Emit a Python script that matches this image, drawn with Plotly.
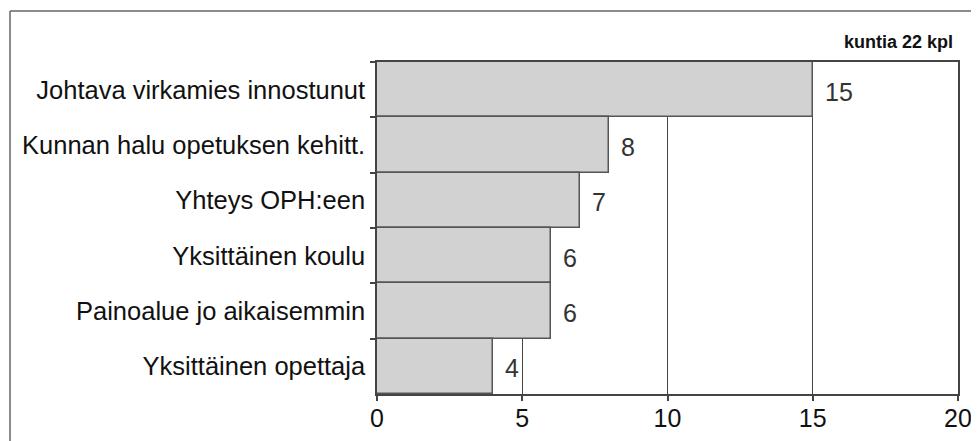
import plotly.graph_objects as go

categories = [
    "Johtava virkamies innostunut",
    "Kunnan halu opetuksen kehitt.",
    "Yhteys OPH:een",
    "Yksittäinen koulu",
    "Painoalue jo aikaisemmin",
    "Yksittäinen opettaja",
]
values = [15, 8, 7, 6, 6, 4]
x_ticks = [0, 5, 10, 15, 20]
note = "kuntia 22 kpl"

# page body has an 8px margin; compensate so the plot lands where the reference has it
OFF = 8
W, H = 979 - OFF, 441 - OFF
L, R, T, B = 377 - OFF, 21, 62 - OFF, 47
pw, ph = W - L - R, H - T - B

FONT = "Liberation Sans, Arial, sans-serif"
DARK = "#444444"

fig = go.Figure()
fig.add_trace(go.Bar(
    y=categories,
    x=values,
    orientation="h",
    marker=dict(color="#d2d2d2", line=dict(color="#555555", width=1.5)),
    hoverinfo="skip",
))

for c, v in zip(categories, values):
    fig.add_annotation(
        x=v, y=c, xref="x", yref="y", text=str(v), showarrow=False,
        xanchor="left", yanchor="middle", xshift=10, yshift=-2,
        font=dict(family=FONT, size=25, color="#333333"),
    )

fig.add_annotation(
    x=0.995, y=1.06, xref="paper", yref="paper", text=note, showarrow=False,
    xanchor="right", yanchor="middle",
    font=dict(family=FONT, size=18, color="#111111", weight="bold"),
)

# outer frame (top and left edges visible)
fx = (10 - OFF - L) / pw
fy = (H - B - (11 - OFF)) / ph
fig.add_shape(type="line", xref="paper", yref="paper", x0=fx, x1=fx, y0=-0.3, y1=fy,
              line=dict(color="#666666", width=1.5), layer="above")
fig.add_shape(type="line", xref="paper", yref="paper", x0=fx, x1=1.2, y0=fy, y1=fy,
              line=dict(color="#666666", width=1.5), layer="above")

fig.update_layout(
    width=W, height=H,
    margin=dict(l=L, r=R, t=T, b=B, pad=0, autoexpand=False),
    paper_bgcolor="white", plot_bgcolor="white",
    bargap=0,
    showlegend=False,
    font=dict(family=FONT, size=25, color="#111111"),
    xaxis=dict(
        range=[0, 20], tickvals=x_ticks, ticktext=[str(t) for t in x_ticks],
        showgrid=True, gridcolor=DARK, gridwidth=1,
        showline=True, linecolor=DARK, linewidth=1.5, mirror=True,
        ticks="outside", ticklen=5, tickcolor=DARK, tickwidth=1.5,
        ticklabelstandoff=-4,
        zeroline=False, fixedrange=True, automargin=False,
        tickfont=dict(family=FONT, size=25, color="#111111"),
    ),
    yaxis=dict(
        categoryorder="array", categoryarray=categories, autorange="reversed",
        showline=True, linecolor=DARK, linewidth=1.5, mirror=True,
        ticks="outside", ticklen=5, tickcolor=DARK, tickwidth=1.5,
        tickson="boundaries", showgrid=False, ticklabelstandoff=5,
        automargin=False,
        tickfont=dict(family=FONT, size=25.5, color="#111111"),
        fixedrange=True,
    ),
)

fig.write_html("out.html")
